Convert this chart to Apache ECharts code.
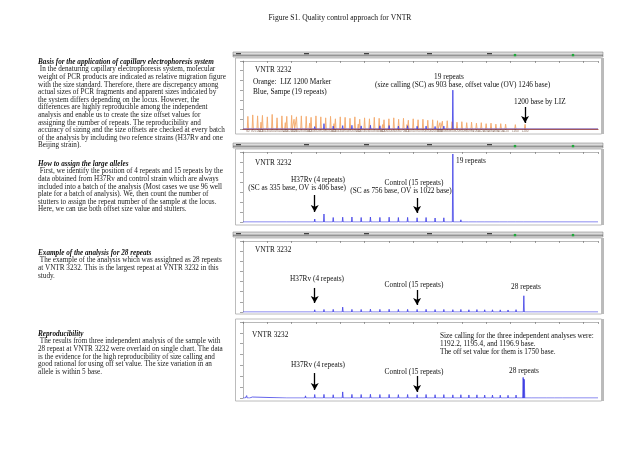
<!DOCTYPE html>
<html><head><meta charset="utf-8">
<script src="https://cdn.jsdelivr.net/npm/echarts@6/dist/echarts.min.js"></script>
<style>html,body{margin:0;padding:0;background:#fff}#c{width:640px;height:452px}</style>
</head><body><div id="c"></div>
<script>
// ---------------- data ----------------
// fragment size (base) of each repeat number 1..35
const repeatSizes = [222,260,297,335,373,411,450,488,526,564,603,641,679,717,756,793,830,866,903,936,969,1002,1034,1066,1098,1130,1163,1195,1227,1259,1291,1323,1355,1387,1419];
// LIZ 1200 size standard (orange) in panel 1
const lizSizes = [60,80,100,114,120,140,160,180,200,214,220,240,250,260,280,300,314,320,340,360,380,400,414,420,440,460,480,500,514,520,540,560,580,600,614,620,640,660,680,700,714,720,740,760,780,800,820,840,850,860,880,900,920,940,960,980,1000,1020,1040,1060,1080,1100,1120,1160,1200];
const lizHeights = [1300,1450,1350,700,1400,1250,1500,1150,1350,650,1300,1400,1000,1250,1350,1300,600,1200,1350,1250,1150,1300,550,1050,1250,1200,1100,1250,500,1000,1150,1050,1200,1100,450,950,1050,1150,1000,1100,450,900,1050,950,1000,900,950,850,650,800,850,750,700,750,650,700,600,650,550,600,500,550,500,450,480];
// sample (blue) peak heights by repeat number
const p1SampleHeights = [0,60,120,250,550,300,350,380,320,380,330,350,300,330,280,300,260,300,4000,150,100,80,60,50,40];
const p2Heights = [80,120,200,300,800,450,480,500,450,500,460,480,450,460,420,450,400,420,6800,220,150,120,100,90,80,70,60,50,40,30];
const p3Heights = [0,80,150,220,250,260,480,260,250,280,260,270,250,260,250,260,240,250,230,250,220,240,220,220,210,200,230,1600,80,40];
const p4StutterHeights = [60,120,200,320,330,300,560,330,320,340,320,330,310,320,300,320,300,310,290,300,280,290,270,270,260,250,270,0,150,120,100,90,80,70,60];
const p4NoiseSizes = [48,55,62,70,78];
const p4NoiseHeights = [120,220,180,140,90];
// three independent size callings of the 28-repeat allele
const p4Run28Sizes = [1192.2,1195.4,1196.9];
const p4Run28Heights = [1900,1750,1650];
// arrows: [size, from, to]
const p1Arrows = [[1200,2265,620]];
const p2Arrows = [[335,2700,1000],[756,2400,900]];
const p3Arrows = [[335,2370,890],[756,2170,690]];
const p4Arrows = [[335,2300,740],[756,2030,550]];

// ---------------- text ----------------
const figTitle = 'Figure S1. Quality control approach for VNTR';
const sections = [
  {head:'Basis for the application of capillary electrophoresis system', y:62, lines:[
    ' In the denaturing capillary electrophoresis system, molecular',
    'weight of PCR products are indicated as relative migration figure',
    'with the size standard. Therefore, there are discrepancy among',
    'actual sizes of PCR fragments and apparent sizes indicated by',
    'the system differs depending on the locus. However, the',
    'differences are highly reproducible among the independent',
    'analysis and enable us to create the size offset values for',
    'assigning the number of repeats. The reproducibility and',
    'accuracy of sizing and the size offsets are checked at every batch',
    'of the analysis by including two refence strains (H37Rv and one',
    'Beijing strain).']},
  {head:'How to assign the large alleles', y:164, lines:[
    ' First, we identify the position of 4 repeats and 15 repeats by the',
    'data obtained from H37Rv and control strain which are always',
    'included into a batch of the analysis (Most cases we use 96 well',
    'plate for a batch of analysis). We, then count the number of',
    'stutters to assign the repeat number of the sample at the locus.',
    'Here, we can use both offset size value and stutters.']},
  {head:'Example of the analysis for 28 repeats', y:253, lines:[
    ' The example of the analysis which was assighned as 28 repeats',
    'at VNTR 3232. This is the largest repeat at VNTR 3232 in this',
    'study.']},
  {head:'Reproducibility', y:334, lines:[
    ' The results from three independent analysis of the sample with',
    '28 repeat at VNTR 3232 were overlaid on single chart. The data',
    'is the evidence for the high reproducibility of size calling and',
    'good rational for using off set value. The size variation in an',
    'allele is within 5 base.']}
];
// panel annotations: [text, x, y, align]
const panelTexts = [
  ['VNTR 3232',255,70,'left'],
  ['Orange:  LIZ 1200 Marker',253,82,'left'],
  ['Blue, Sampe (19 repeats)',253,92,'left'],
  ['19 repeats',449,77,'center'],
  ['(size calling (SC) as 903 base, offset value (OV) 1246 base)',375,85,'left'],
  ['1200 base by LIZ',514,102,'left'],
  ['VNTR 3232',255,163,'left'],
  ['19 repeats',456,161,'left'],
  ['H37Rv (4 repeats)',345,180,'right'],
  ['(SC as 335 base, OV is 406 base)',346,188,'right'],
  ['Control (15 repeats)',414,183,'center'],
  ['(SC as 756 base, OV is 1022 base)',401,191,'center'],
  ['VNTR 3232',255,250,'left'],
  ['H37Rv (4 repeats)',317,279,'center'],
  ['Control (15 repeats)',414,285,'center'],
  ['28 repeats',526,287,'center'],
  ['VNTR 3232',252,335,'left'],
  ['Size calling for the three independent analyses were:',440,336,'left'],
  ['1192.2, 1195.4, and 1196.9 base.',440,344,'left'],
  ['The off set value for them is 1750 base.',440,352,'left'],
  ['H37Rv (4 repeats)',318,365,'center'],
  ['Control (15 repeats)',414,372,'center'],
  ['28 repeats',524,371,'center']
];

// ---------------- build ----------------
const X_MIN = 40, X_MAX = 1500;
function trace(sizes, heights, w) {
  const pts = [[X_MIN, 0]];
  sizes.forEach((s, i) => {
    const h = heights[i];
    if (h == null || h <= 0) return;
    pts.push([s - w, 0], [s, h], [s + w, 0]);
  });
  pts.push([X_MAX, 0]);
  return pts;
}
const SERIF = '"Liberation Serif","DejaVu Serif",serif';
const BODY = '7.2px ' + SERIF;
const PANEL = '7.3px ' + SERIF;
const LINE = 7.6;
const BLUE = '#3c3ce6';
const ORANGE = '#f4ad72';
const panels = [
  {top:61, base:129, fTop:58, fBot:134, header:52},
  {top:152, base:222, fTop:149, fBot:225, header:143},
  {top:241, base:312, fTop:238, fBot:314, header:232},
  {top:322, base:398, fTop:319, fBot:401, header:null}
];
const grid = [], xAxis = [], yAxis = [];
panels.forEach((p, i) => {
  grid.push({left:243, right:42, top:p.top, height:p.base - p.top, outerBoundsMode:'none', containLabel:false});
  xAxis.push({type:'value', gridIndex:i, min:X_MIN, max:X_MAX, position:'bottom',
    axisLine:{show:i === 0, lineStyle:{color:'#a8442a', width:1}},
    axisTick:{show:false}, axisLabel:{show:false}, splitLine:{show:false}});
  xAxis.push({type:'value', gridIndex:i, min:0, max:14600, interval:1000, position:'top',
    axisLine:{show:true, lineStyle:{color:'#9a9a9a', width:0.7}},
    axisTick:{show:true, inside:true, length:2, lineStyle:{color:'#666', width:0.6}},
    axisLabel:{show:false}, splitLine:{show:false}});
  yAxis.push({type:'value', gridIndex:i, min:0, max:7000, interval:1000,
    axisLine:{show:true, lineStyle:{color:'#9a9a9a', width:0.7}},
    axisTick:{show:true, length:3, lineStyle:{color:'#666', width:0.6}},
    axisLabel:{show:false}, splitLine:{show:false}});
});
function arrowMark(arr) {
  return {silent:true, symbol:['none','arrow'], symbolSize:[6,7], animation:false,
    label:{show:false}, lineStyle:{color:'#000', width:1.3, type:'solid'},
    data: arr.map(a => [{coord:[a[0], a[1]]}, {coord:[a[0], a[2]]}])};
}
function lineSeries(idx, data, color, width, mark) {
  const s = {type:'line', xAxisIndex:idx*2, yAxisIndex:idx, data:data, showSymbol:false, symbol:'none',
    lineStyle:{color:color, width:width}, animation:false, silent:true, clip:true, z:3};
  if (mark) s.markLine = mark;
  return s;
}
const series = [
  lineSeries(0, trace(lizSizes, lizHeights, 2.5), ORANGE, 1),
  lineSeries(0, trace(repeatSizes, p1SampleHeights, 2), BLUE, 0.8, arrowMark(p1Arrows)),
  {type:'scatter', xAxisIndex:0, yAxisIndex:0, data:lizSizes.map(s => [s, 0]), symbolSize:0, silent:true, animation:false,
    label:{show:true, position:'bottom', distance:1, formatter:p => String(p.value[0]), fontSize:3, color:'#6e4a36', fontFamily:'Arial'}},
  lineSeries(1, trace(repeatSizes, p2Heights, 2), BLUE, 0.8, arrowMark(p2Arrows)),
  lineSeries(2, trace(repeatSizes, p3Heights, 2), BLUE, 0.8, arrowMark(p3Arrows)),
  lineSeries(3, trace(p4NoiseSizes.concat(repeatSizes), p4NoiseHeights.concat(p4StutterHeights), 2), BLUE, 0.8, arrowMark(p4Arrows))
];
p4Run28Sizes.forEach((s, i) => {
  series.push(lineSeries(3, [[s - 2, 0], [s, p4Run28Heights[i]], [s + 2, 0]], ['#3c3ce6','#2a2ad0','#5555ee'][i], 0.8));
});

// ---------------- graphics ----------------
const graphic = [];
graphic.push({type:'text', x:340, y:18, style:{text:figTitle, font:'7.6px ' + SERIF, fill:'#111', align:'center', verticalAlign:'middle'}});
sections.forEach(sec => {
  graphic.push({type:'text', x:38, y:sec.y, style:{text:sec.head, font:'italic bold ' + BODY, fill:'#111', verticalAlign:'middle'}});
  sec.lines.forEach((ln, k) => {
    graphic.push({type:'text', x:38, y:sec.y + LINE * (k + 1), style:{text:ln, font:BODY, fill:'#222', verticalAlign:'middle'}});
  });
});
panels.forEach((p, i) => {
  graphic.push({type:'rect', z:-1, shape:{x:235.5, y:p.fTop, width:366, height:p.fBot - p.fTop},
    style:{fill:'#fff', stroke:'#ababab', lineWidth:0.8}});
  graphic.push({type:'line', z:-1, shape:{x1:603, y1:p.fTop, x2:603, y2:p.fBot}, style:{stroke:'#777', lineWidth:1}});
  if (p.header != null) {
    const h = p.header;
    graphic.push({type:'rect', shape:{x:233, y:h, width:370, height:5}, style:{fill:'#dcdcdc', stroke:'#777', lineWidth:0.5}});
    graphic.push({type:'line', shape:{x1:233, y1:h + 3.2, x2:603, y2:h + 3.2}, style:{stroke:'#333', lineWidth:0.6}});
    [236, 304, 364, 427, 487].forEach(mx => {
      graphic.push({type:'rect', shape:{x:mx, y:h + 1, width:5, height:1.3}, style:{fill:'#444'}});
    });
    [515, 573].forEach(gx => {
      graphic.push({type:'rect', shape:{x:gx - 1.2, y:h + 1.9, width:2.4, height:2.4}, style:{fill:'#1fa83a'}});
    });
  }
});
panelTexts.forEach(t => {
  graphic.push({type:'text', z:10, x:t[1], y:t[2], style:{text:t[0], font:PANEL, fill:'#111', align:t[3], verticalAlign:'middle'}});
});

const chart = echarts.init(document.getElementById('c'));
chart.setOption({backgroundColor:'#fff', animation:false, grid, xAxis, yAxis, series, graphic});
</script>
</body></html>
